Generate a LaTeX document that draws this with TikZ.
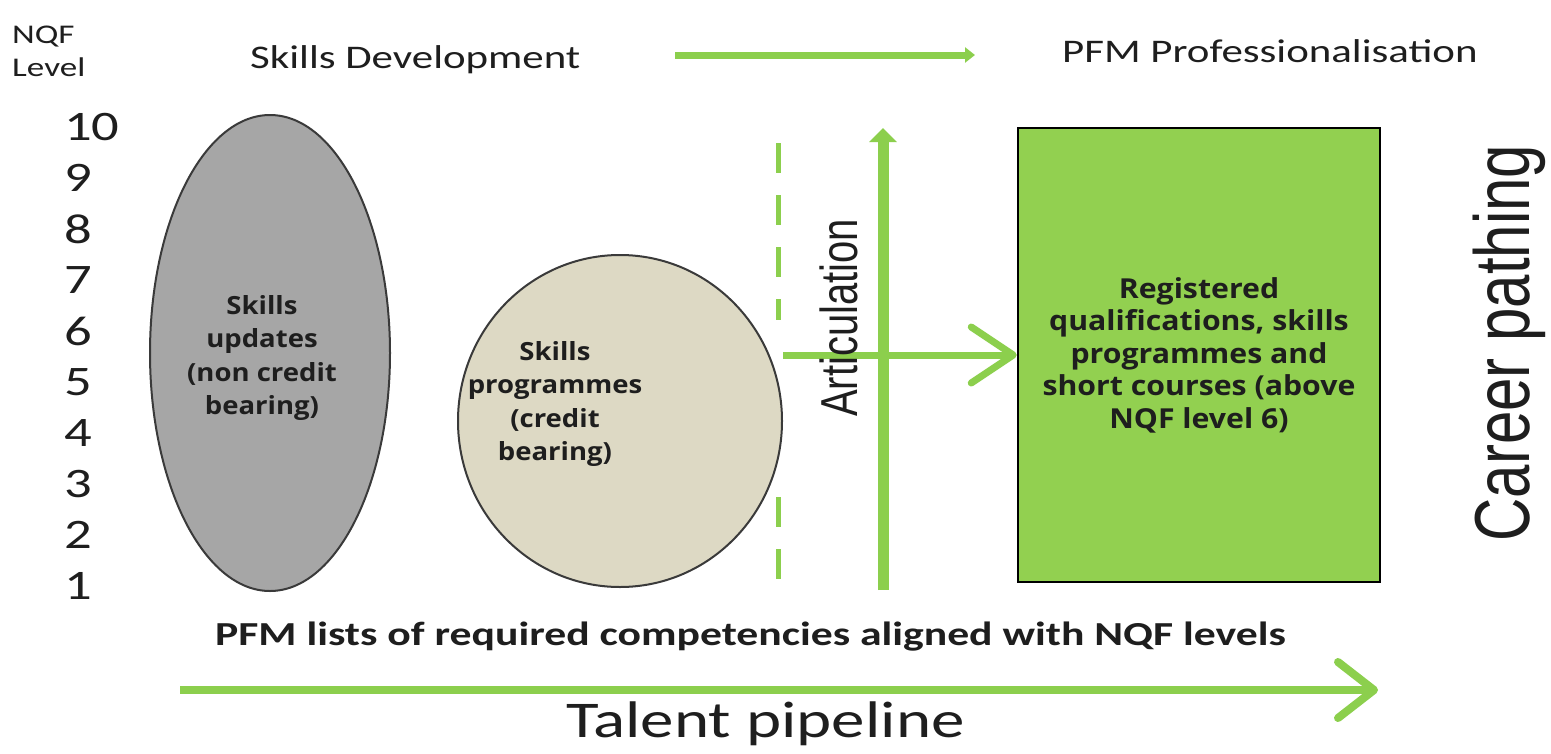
\documentclass[tikz,border=0pt]{standalone}
\usepackage{fontspec}
\usetikzlibrary{arrows.meta,shapes.geometric,backgrounds}
\newfontfamily\calw[FakeStretch=1.3]{Carlito}
\newfontfamily\opw[FakeStretch=1.1]{Open Sans}
\newfontfamily\ari{Liberation Sans}
\definecolor{pgreen}{HTML}{92D050}
\definecolor{lgreen}{HTML}{8CCF4D}
\definecolor{ellgray}{HTML}{A6A6A6}
\definecolor{ellbeige}{HTML}{DDD9C4}
\definecolor{edgegray}{HTML}{3A3A3A}
\definecolor{txtdark}{HTML}{1E1E1E}
\tikzset{
  lbl/.style={inner sep=0pt, text=txtdark},
  numlbl/.style={inner sep=0pt, anchor=west, text=txtdark, font=\calw\fontsize{42}{42}\selectfont},
  ellbox/.style={ellipse, draw=edgegray, line width=2pt, inner sep=0pt},
  elltext/.style={inner sep=0pt, align=center, text=txtdark, font=\opw\bfseries\fontsize{25}{33.5}\selectfont},
  gline/.style={draw=lgreen, line cap=butt},
  gdash/.style={gline, line width=5pt, dash pattern=on 30pt off 22pt},
}
\begin{document}
\begin{tikzpicture}[x=1pt,y=-1pt]
\useasboundingbox (0,0) rectangle (1551,753);
\begin{scope}[on background layer]
  \fill[white] (0,0) rectangle (1551,753);
\end{scope}

% header
\node[lbl, anchor=base west, font=\calw\fontsize{27}{27}\selectfont] (nqf) at (12,43) {NQF};
\node[lbl, anchor=base west, font=\calw\fontsize{27}{27}\selectfont] (lev) at (12,76) {Level};
\node[lbl, anchor=base west, font=\calw\fontsize{33}{33}\selectfont] (sd) at (250,68) {Skills Development};
\node[lbl, anchor=base west, font=\calw\fontsize{33}{33}\selectfont] (pp) at (1062,62) {PFM Professionalisation};
\coordinate (tA) at (675,55);
\coordinate (tB) at (975,55);
\draw[gline, line width=7pt, -{Triangle[length=10pt,width=15pt]}] (tA) -- (tB);

% numbers
\foreach \n [count=\i from 0] in {10,9,8,7,6,5,4,3,2,1} {
  \node[numlbl] (n\n) at (64,{127+\i*51}) {\n};
}

% shapes
\coordinate (d1) at (778,143);
\coordinate (d3) at (778,320);
\coordinate (d4) at (778,497);
\coordinate (d2) at (778,580);
\coordinate (v1) at (883,590);
\coordinate (v2) at (883,128);

\node[ellbox, fill=ellgray, minimum width=240pt, minimum height=476pt] (e1) at (270,353) {};
\node[ellbox, fill=ellbeige, minimum width=324pt, minimum height=332pt] (e2) at (620,421) {};
\node[draw=black, line width=2.5pt, fill=pgreen, minimum width=362pt, minimum height=454pt, inner sep=0pt] (box) at (1199,355) {};

\begin{scope}[on background layer]
  \draw[gdash] (d1) -- (d3);
  \draw[gdash] (d4) -- (d2);
  \draw[gline, line width=7pt, -{Straight Barb[length=42pt,width=56pt,round]}] (e2.east |- box.west) -- (box.west);
\end{scope}
\draw[gline, line width=11pt, -{Triangle[length=14pt,width=27pt]}] (v1) -- (v2);

% texts inside shapes
\node[elltext] (t1) at (262,358) {Skills\\updates\\(non credit\\bearing)};
\node[elltext] (t2) at (555,404) {Skills\\programmes\\(credit\\bearing)};
\node[inner sep=0pt, align=center, text=txtdark, font=\opw\bfseries\fontsize{27.5}{32.5}\selectfont] (t3) at (box.center) {Registered\\qualifications, skills\\programmes and\\short courses (above\\NQF level 6)};

% rotated labels
\node[lbl, rotate=90] (art) at (839,318) {\scalebox{1}[1.3]{\ari\fontsize{40}{40}\selectfont Articulation}};
\node[lbl, rotate=90] (cp) at (1509,343) {\scalebox{1}[1.3]{\ari\fontsize{60}{60}\selectfont Career pathing}};

% bottom
\node[lbl, anchor=base west, font=\calw\bfseries\fontsize{33.6}{33.6}\selectfont] (pl) at (215,645) {PFM lists of required competencies aligned with NQF levels};
\coordinate (b1) at (180,690);
\coordinate (b2) at (1378,690);
\draw[gline, line width=8pt, -{Straight Barb[length=36pt,width=56pt,round]}] (b1) -- (b2);
\node[lbl, anchor=base west, font=\calw\fontsize{51.5}{51.5}\selectfont] (tp) at (566,737) {Talent pipeline};
\end{tikzpicture}
\end{document}
